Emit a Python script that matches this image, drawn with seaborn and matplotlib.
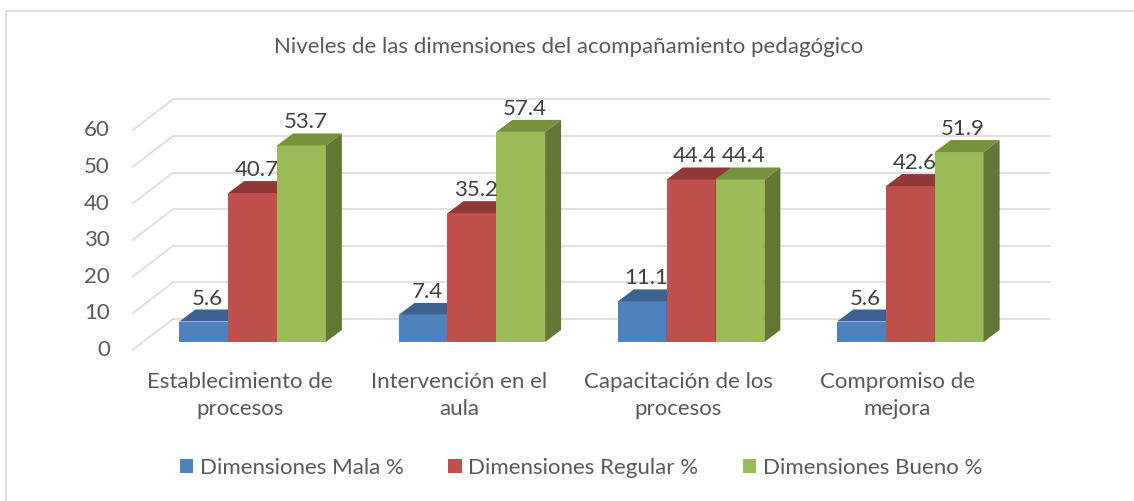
import matplotlib
matplotlib.use("Agg")
import matplotlib.pyplot as plt
import pandas as pd
import seaborn as sns
from matplotlib.colors import to_hex
from matplotlib.lines import Line2D
from matplotlib.patches import Patch, Polygon, Rectangle
from matplotlib.transforms import IdentityTransform, ScaledTranslation

# data
dimensiones = ["Establecimiento de\nprocesos", "Intervención en el\naula",
               "Capacitación de los\nprocesos", "Compromiso de\nmejora"]
series = ["Dimensiones Mala %", "Dimensiones Regular %", "Dimensiones Bueno %"]
mala = [5.6, 7.4, 11.1, 5.6]
regular = [40.7, 35.2, 44.4, 42.6]
bueno = [53.7, 57.4, 44.4, 51.9]
yticks = [0, 10, 20, 30, 40, 50, 60]

df = pd.DataFrame({
    "dimension": dimensiones * 3,
    "serie": [s for s in series for _ in dimensiones],
    "valor": mala + regular + bueno,
})

# front / top / side colours for the 3d look
frente = ["#4F81BD", "#C0504D", "#9BBB59"]
arriba = {"#4f81bd": "#3C6291", "#c0504d": "#8F3836", "#9bbb59": "#76923C"}
lado = {"#4f81bd": "#36587F", "#c0504d": "#7E302E", "#9bbb59": "#637835"}
gris_txt = "#595959"

sns.set_theme(style="white")
plt.rcParams["font.family"] = ["Lato", "DejaVu Sans"]
FS = 16

DPI = 100
W, H = 1134, 501
fig = plt.figure(figsize=(W / DPI, H / DPI), dpi=DPI)
fig.patch.set_facecolor("white")
ax = fig.add_axes([143 / W, 159 / H, 877 / W, 219.6 / H])

sns.barplot(data=df, x="dimension", y="valor", hue="serie", hue_order=series,
            palette=frente, width=0.668, saturation=1, errorbar=None,
            linewidth=0, legend=False, ax=ax)
ax.set_xlim(-0.5, 3.5)
ax.set_ylim(0, 60)
ax.set_axis_off()


def px(dx, dy):
    return ScaledTranslation(dx / DPI, dy / DPI, fig.dpi_scale_trans)


to_px = ax.transData.transform
prof_dx, prof_dy = 16, 12      # bar depth
fondo = (30, 23)               # back wall offset
delante = (-10.5, -8)          # front edge of the floor

# back wall grid + left wall diagonals
for v in yticks:
    xa, ya = to_px((-0.5, v))
    xb, _ = to_px((3.5, v))
    ax.add_artist(Line2D([xa + fondo[0], xb + fondo[0]], [ya + fondo[1], ya + fondo[1]],
                         transform=IdentityTransform(), color="#D9D9D9", lw=1.1,
                         zorder=1, clip_on=False))
    ax.add_artist(Line2D([xa + delante[0], xa + fondo[0]], [ya + delante[1], ya + fondo[1]],
                         transform=IdentityTransform(), color="#D9D9D9", lw=1.1,
                         zorder=1, clip_on=False))
    ax.text(-0.5, v, str(v), transform=ax.transData + px(-33, -8), ha="right",
            va="center", fontsize=FS, color=gris_txt)

# 3d faces of each bar, left to right so the next front hides the side
barras = sorted(ax.patches, key=lambda p: p.get_x())
for k, p in enumerate(barras):
    col = to_hex(p.get_facecolor())
    x0, x1, h = p.get_x(), p.get_x() + p.get_width(), p.get_height()
    X0, Y0 = to_px((x0, 0))
    X1, Yh = to_px((x1, h))
    z = 3 + k * 0.1
    p.set_zorder(z)
    top = [(X0, Yh), (X1, Yh), (X1 + prof_dx, Yh + prof_dy), (X0 + prof_dx, Yh + prof_dy)]
    side = [(X1, Y0), (X1, Yh), (X1 + prof_dx, Yh + prof_dy), (X1 + prof_dx, Y0 + prof_dy)]
    ax.add_artist(Polygon(top, closed=True, transform=IdentityTransform(),
                          facecolor=arriba[col], edgecolor="none", zorder=z + 0.01, clip_on=False))
    ax.add_artist(Polygon(side, closed=True, transform=IdentityTransform(),
                          facecolor=lado[col], edgecolor="none", zorder=z + 0.02, clip_on=False))
    ax.text(x0 + p.get_width() / 2, h, f"{h:.1f}", transform=ax.transData + px(4, 17),
            ha="center", va="baseline", fontsize=FS, color="#404040", zorder=10)

# category labels on the floor front edge
for i, lab in enumerate(dimensiones):
    ax.text(i, 0, lab, transform=ax.transData + px(-13, -30), ha="center", va="top",
            fontsize=FS, color=gris_txt, linespacing=1.45)

fig.text(569 / W, 1 - 47 / H, "Niveles de las dimensiones del acompañamiento pedagógico",
         ha="center", va="center", fontsize=FS, color=gris_txt)

handles = [Patch(facecolor=c, edgecolor="none") for c in frente]
fig.legend(handles, series, loc="center", bbox_to_anchor=(581 / W, 1 - 468 / H), ncol=3,
           frameon=False, fontsize=FS, handlelength=0.6, handleheight=0.6,
           handletextpad=0.3, columnspacing=2.0, labelcolor=gris_txt)

# chart area border (runs off the right and bottom of the image)
fig.add_artist(Rectangle((6 / W, -0.1), 1.2, 1.1 - 11 / H, transform=fig.transFigure,
                         fill=False, edgecolor="#D9D9D9", lw=1.2))

fig.savefig("out.png", dpi=DPI)
